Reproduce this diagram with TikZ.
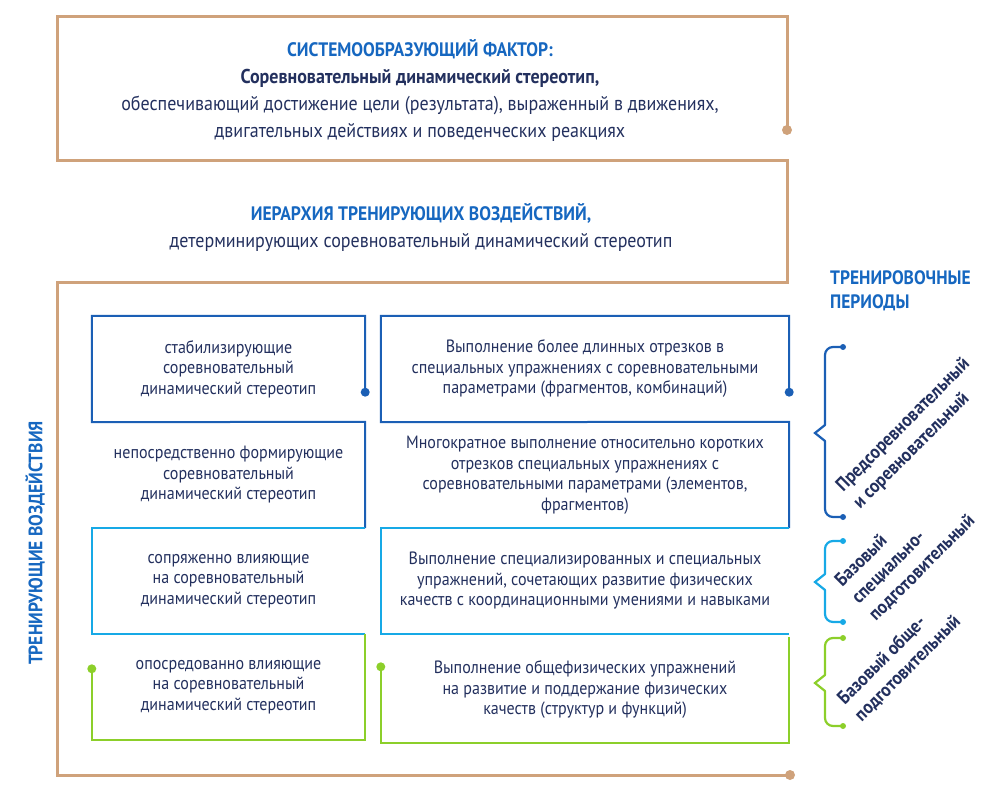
\documentclass[tikz,border=0pt]{standalone}
\usepackage{fontspec}
\setmainfont{PT Sans}[FakeStretch=0.9]
\usepackage{xcolor}
\usepackage{tikz}
\usetikzlibrary{positioning,calc}

\definecolor{tanc}{RGB}{207,162,123}
\definecolor{dblue}{RGB}{27,95,181}
\definecolor{hblue}{RGB}{22,103,192}
\definecolor{lblue}{RGB}{23,169,230}
\definecolor{lgreen}{RGB}{140,207,42}
\definecolor{navy}{RGB}{35,48,94}

\begin{document}
\begin{tikzpicture}[
    x=1pt, y=-1pt,
    every node/.style={inner sep=0pt, text=navy},
    body/.style={align=center, font=\fontsize{20}{27}\selectfont},
    cellL/.style={minimum width=273pt, minimum height=106pt, align=center,
        font=\fontsize{17.8}{20.5}\selectfont},
    cellR/.style={cellL, minimum width=408pt},
    period/.style={rotate=45, align=left, font=\fontsize{19}{24}\selectfont\bfseries},
    heading/.style={text=hblue, font=\fontsize{19.4}{24}\selectfont\bfseries},
    tanline/.style={draw=tanc, line width=3pt},
    bline/.style={line width=2pt},
    brace/.style={line width=2.2pt, line cap=round}
]
\useasboundingbox (0,0) rectangle (989,792);

% рамка
\coordinate (sysdot) at (787,130);
\coordinate (sysNE) at (787,17);
\coordinate (sysNW) at (57,17);
\coordinate (sysSW) at (57,160);
\coordinate (sysSE) at (787,160);
\coordinate (hierSE) at (787,282);
\coordinate (hierSW) at (57,282);
\coordinate (frameSW) at (57,775);
\coordinate (framedot) at (790,775);
\draw[tanline] (sysdot) -- (sysNE) -- (sysNW) -- (sysSW) -- (sysSE) -- (hierSE) -- (hierSW) -- (frameSW) -- (framedot);
\fill[tanc] (sysdot) circle (5pt);
\fill[tanc] (framedot) circle (5pt);

\node[body] (sys) at (420,90) {{\color{hblue}\fontsize{19.5}{27}\selectfont\bfseries СИСТЕМООБРАЗУЮЩИЙ ФАКТОР:}\\
    {\bfseries Соревновательный динамический стереотип,}\\
    обеспечивающий достижение цели (результата), выраженный в движениях,\\
    двигательных действиях и поведенческих реакциях};
\node[body] (hier) at (421,228) {{\color{hblue}\fontsize{19.5}{27}\selectfont\bfseries ИЕРАРХИЯ ТРЕНИРУЮЩИХ ВОЗДЕЙСТВИЙ,}\\
    детерминирующих соревновательный динамический стереотип};

\node[heading, rotate=90] (infl) at (35,543) {ТРЕНИРУЮЩИЕ ВОЗДЕЙСТВИЯ};
\node[heading, align=left, anchor=north west] (periods) at (830,270) {ТРЕНИРОВОЧНЫЕ\\ПЕРИОДЫ};

% воздействия
\node[cellL] (l1) at (228.5,369) {стабилизирующие\\соревновательный\\динамический стереотип};
\node[cellL] (l2) at (228.5,475) {непосредственно формирующие\\соревновательный\\динамический стереотип};
\node[cellL] (l3) at (228.5,581) {сопряженно влияющие\\на соревновательный\\динамический стереотип};
\node[cellL] (l4) at (228.5,687) {опосредованно влияющие\\на соревновательный\\динамический стереотип};

\node[cellR] (r1) at (585,369) {Выполнение более длинных отрезков в\\специальных упражнениях с соревновательными\\параметрами (фрагментов, комбинаций)};
\node[cellR] (r2) at (585,475) {Многократное выполнение относительно коротких\\отрезков специальных упражнениях с\\соревновательными параметрами (элементов,\\фрагментов)};
\node[cellR] (r3) at (585,581) {Выполнение специализированных и специальных\\упражнений, сочетающих развитие физических\\качеств с координационными умениями и навыками};
\node[cellR] (r4) at (585,690) {Выполнение общефизических упражнений\\на развитие и поддержание физических\\качеств (структур и функций)};

\coordinate (l1dot) at ($(l1.south east)+(0,-30)$);
\coordinate (r1dot) at ($(r1.south east)+(0,-30)$);
\coordinate (l4dot) at ($(l4.north west)+(0,35)$);
\coordinate (r4dot) at ($(r4.north west)+(0,30)$);

\draw[bline, dblue] (l1dot) -- (l1.north east) -- (l1.north west) -- (l1.south west) -- (l2.north east) -- (l2.south east);
\draw[bline, lblue] (l3.north east) -- (l3.north west) -- (l3.south west) -- (l3.south east);
\draw[bline, lgreen] (l4.north east) -- (l4.south east) -- (l4.south west) -- (l4dot);
\draw[bline, dblue] (r1dot) -- (r1.north east) -- (r1.north west) -- (r1.south west) -- (r2.north east) -- (r2.south east);
\draw[bline, lblue] (r3.north east) -- (r3.north west) -- (r3.south west) -- (r3.south east);
\draw[bline, lgreen] (r4.north east) -- (r4.south east) -- (r4.south west) -- (r4dot);
\fill[dblue] (l1dot) circle (4.5pt) (r1dot) circle (4.5pt);
\fill[lgreen] (l4dot) circle (4.5pt) (r4dot) circle (4.5pt);

% периоды
\draw[brace, dblue, rounded corners=8pt] (843,347) -| (825,425);
\draw[brace, dblue, rounded corners=8pt] (843,517) -| (825,441);
\draw[brace, dblue] (825,425) -- (815,433) -- (825,441);
\fill[dblue] (843,347) circle (3pt) (843,517) circle (3pt);

\draw[brace, lblue, rounded corners=8pt] (843,541) -| (825,574);
\draw[brace, lblue, rounded corners=8pt] (843,622) -| (825,590);
\draw[brace, lblue] (825,574) -- (815,582) -- (825,590);
\fill[lblue] (843,541) circle (3pt) (843,622) circle (3pt);

\draw[brace, lgreen, rounded corners=8pt] (843,638) -| (825,675);
\draw[brace, lgreen, rounded corners=8pt] (843,726) -| (825,691);
\draw[brace, lgreen] (825,675) -- (815,683) -- (825,691);
\fill[lgreen] (843,638) circle (3pt) (843,726) circle (3pt);

\node[period] (p1) at (912,434) {Предсоревновательный\\и соревновательный};
\node[period] (p2) at (905,551) {Базовый\\специально-\\подготовительный};
\node[period] (p3) at (899,660) {Базовый обще-\\подготовительный};

\end{tikzpicture}
\end{document}
